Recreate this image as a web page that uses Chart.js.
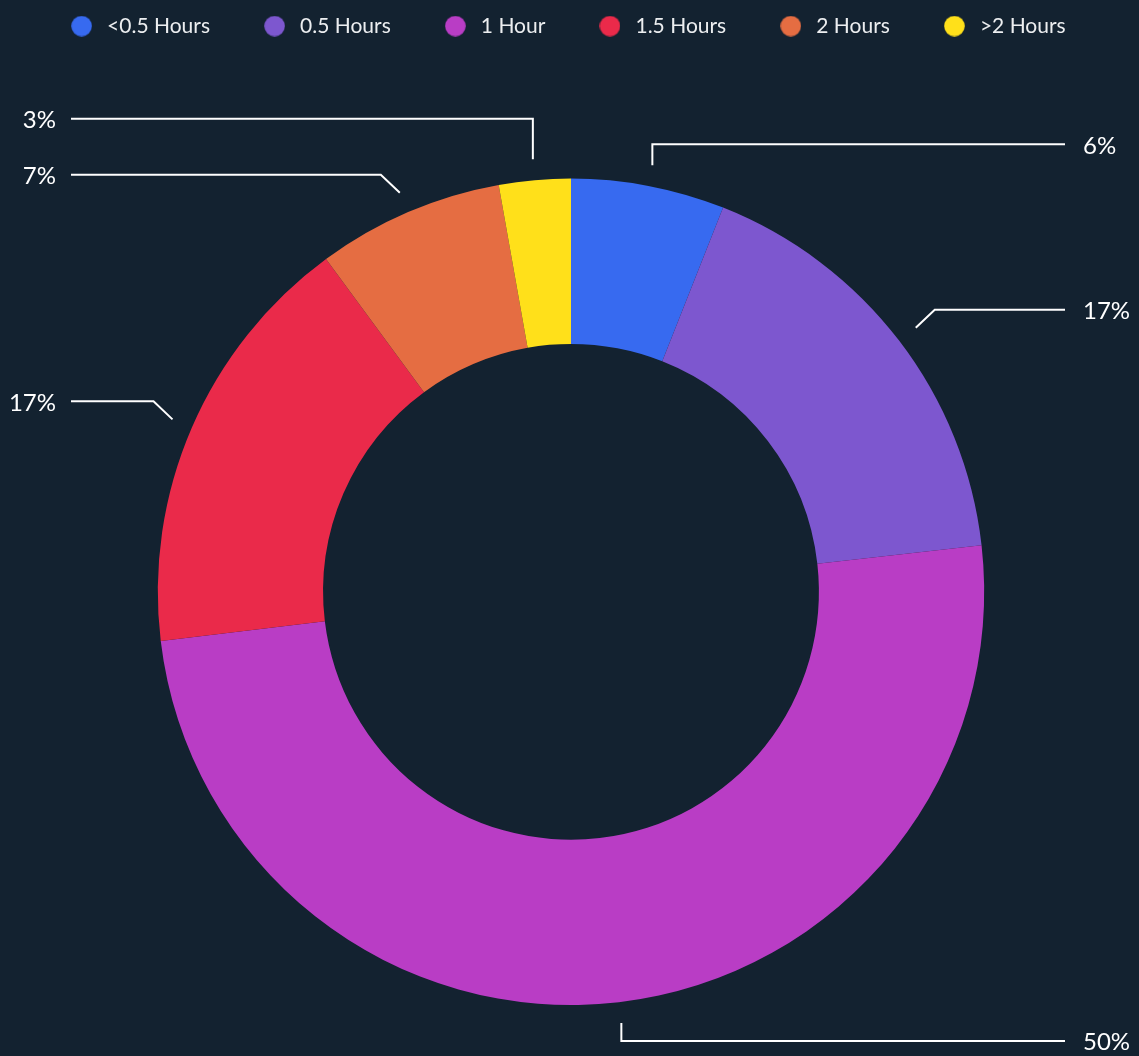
<!DOCTYPE html>
<html>
<head>
<meta charset="utf-8">
<script src="https://cdn.jsdelivr.net/npm/chart.js@4.4.1/dist/chart.umd.min.js"></script>
<style>
    html, body { margin: 0; padding: 0; background: #132230; overflow: hidden; }
    #chart { display: block; }
</style>
</head>
<body>
<canvas id="chart" width="1139" height="1056"></canvas>
<script>
// доли по времени
const hoursLabels = ["<0.5 Hours", "0.5 Hours", "1 Hour", "1.5 Hours", "2 Hours", ">2 Hours"]
const hoursValues = [6, 17.2, 49.9, 16.8, 7.3, 2.8]
const hoursColors = ["#376af0", "#7d57cf", "#b93dc5", "#ea2a4a", "#e56d42", "#ffe01a"]

const BG = "#132230"
const TEXT = "#eceef0"

Chart.defaults.font.family = "Lato"

/**
 * кружок для легенды
 * @param {string} color - цвет
 */
const makeDot = (color) => {
    let c = document.createElement("canvas")
    c.width = 21
    c.height = 21
    let g = c.getContext("2d")
    g.fillStyle = color
    g.beginPath()
    g.arc(10.5, 10.5, 10.3, 0, Math.PI * 2)
    g.fill()
    return c
}

// место под подписи сверху
const legendSpacer = {
    id: "legendSpacer",
    beforeInit(chart) {
        const origFit = chart.legend.fit
        chart.legend.fit = function fit() {
            origFit.bind(chart.legend)()
            this.height += 132
        }
    }
}

// выноски с процентами
const leaderLabels = {
    id: "leaderLabels",
    afterDatasetsDraw(chart) {
        const ctx = chart.ctx
        const meta = chart.getDatasetMeta(0)
        const total = hoursValues.reduce((a, b) => a + b, 0)

        let items = meta.data.map((arc, i) => {
            const {x, y, startAngle, endAngle, outerRadius} = arc.getProps(["x", "y", "startAngle", "endAngle", "outerRadius"], true)
            const mid = (startAngle + endAngle) / 2
            const cos = Math.cos(mid), sin = Math.sin(mid)
            const r = outerRadius + 21
            const px = x + r * cos, py = y + r * sin
            const right = cos >= 0
            const vertical = Math.abs(cos) < 0.25
            const ex = vertical ? px : px + (right ? 19 : -19)
            const ey = py + (sin > 0 ? 18 : (vertical ? -21 : -18))
            return {px, py, ex, ey, right, text: Math.round(hoursValues[i] / total * 100) + "%"}
        })

        // раздвигаем подписи, чтобы не налезали
        for (let side of [true, false]) {
            let list = items.filter(it => it.right == side).sort((a, b) => b.ey - a.ey)
            for (let k = 1; k < list.length; k++) {
                if (list[k - 1].ey - list[k].ey < 56) list[k].ey = list[k - 1].ey - 56
            }
        }

        const leftEnd = 71
        const rightEnd = chart.width - 74

        ctx.save()
        ctx.strokeStyle = "#ffffff"
        ctx.lineWidth = 2
        ctx.font = "24px Lato"
        ctx.fillStyle = "#ffffff"
        ctx.textBaseline = "middle"
        items.forEach(it => {
            ctx.beginPath()
            ctx.moveTo(it.px, it.py)
            ctx.lineTo(it.ex, it.ey)
            ctx.lineTo(it.right ? rightEnd : leftEnd, it.ey)
            ctx.stroke()
            ctx.textAlign = it.right ? "left" : "right"
            ctx.fillText(it.text, it.right ? rightEnd + 18 : leftEnd - 15, it.ey + 1.5)
        })
        ctx.restore()
    }
}

new Chart(document.getElementById("chart"), {
    type: "doughnut",
    data: {
        labels: hoursLabels,
        datasets: [
            {
                data: hoursValues,
                backgroundColor: hoursColors,
                borderWidth: 0,
                hoverBorderWidth: 0,
                hoverOffset: 0
            }
        ]
    },
    options: {
        responsive: false,
        animation: false,
        events: [],
        cutout: "60%",
        layout: {
            padding: {top: -34, bottom: 51, left: 17, right: 14}
        },
        plugins: {
            tooltip: {enabled: false},
            legend: {
                position: "top",
                align: "start",
                labels: {
                    usePointStyle: true,
                    pointStyleWidth: 30,
                    padding: 49.6,
                    color: TEXT,
                    font: {size: 21},
                    generateLabels: (chart) => hoursLabels.map((label, i) => ({
                        text: label,
                        fillStyle: hoursColors[i],
                        strokeStyle: hoursColors[i],
                        lineWidth: 0,
                        pointStyle: makeDot(hoursColors[i]),
                        fontColor: TEXT,
                        hidden: false,
                        index: i
                    }))
                }
            }
        }
    },
    plugins: [legendSpacer, leaderLabels]
})
</script>
</body>
</html>
